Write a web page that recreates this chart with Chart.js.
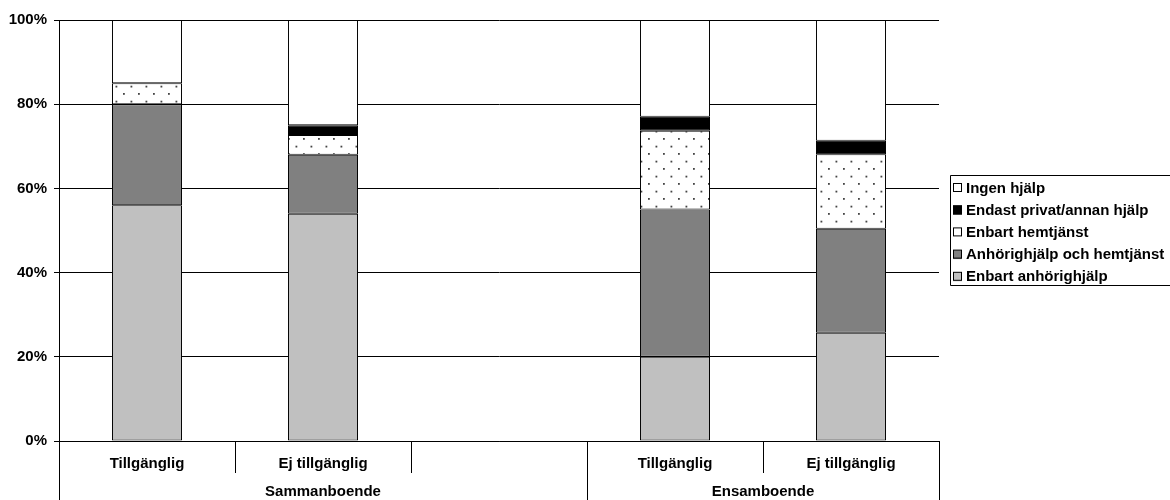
<!DOCTYPE html>
<html>
<head>
<meta charset="utf-8">
<script src="https://cdn.jsdelivr.net/npm/chart.js@4/dist/chart.umd.min.js"></script>
<style>
  html, body { margin: 0; padding: 0; background: #fff; }
  #wrap { width: 1170px; height: 500px; position: relative; }
</style>
</head>
<body>
<div id="wrap"><canvas id="c" width="1170" height="500"></canvas></div>
<script>
// Categories (the empty slot separates the two household groups)
const categories = ['Tillgänglig', 'Ej tillgänglig', '', 'Tillgänglig', 'Ej tillgänglig'];
const groups = ['Sammanboende', 'Ensamboende'];
const groupSpans = [[0, 2], [3, 4]];

// Share of respondents (%) by type of help, bottom to top of each stack
const enbartAnhorighjalp   = [56, 54, null, 20.0, 25.7];
const anhorigOchHemtjanst  = [24, 14, null, 35.0, 24.7];
const enbartHemtjanst      = [5,  4.7, null, 18.7, 17.7];
const endastPrivatAnnan    = [0,  2.3, null, 3.3, 3.2];
const ingenHjalp           = [15, 25, null, 23.0, 28.7];

const yTicks = [0, 20, 40, 60, 80, 100];

// Dotted fill used for "Enbart hemtjänst"
function dotPattern() {
  const t = document.createElement('canvas');
  t.width = 15; t.height = 15;
  const g = t.getContext('2d');
  g.fillStyle = '#ffffff';
  g.fillRect(0, 0, 15, 15);
  g.fillStyle = '#444444';
  g.fillRect(3, 3, 1.8, 1.8);
  g.fillRect(10.5, 10.7, 1.8, 1.8);
  return g.createPattern(t, 'repeat');
}

const ctx = document.getElementById('c').getContext('2d');
const dots = dotPattern();
const FONT = 'Liberation Sans, Arial, Helvetica, sans-serif';

const datasets = [
  { label: 'Enbart anhörighjälp', data: enbartAnhorighjalp, backgroundColor: '#c0c0c0' },
  { label: 'Anhörighjälp och hemtjänst', data: anhorigOchHemtjanst, backgroundColor: '#808080' },
  { label: 'Enbart hemtjänst', data: enbartHemtjanst, backgroundColor: dots },
  { label: 'Endast privat/annan hjälp', data: endastPrivatAnnan, backgroundColor: '#000000' },
  { label: 'Ingen hjälp', data: ingenHjalp, backgroundColor: '#ffffff' }
].map(d => Object.assign(d, {
  borderColor: '#000000',
  borderWidth: 1,
  borderSkipped: false,
  barPercentage: 0.398,
  categoryPercentage: 1.0
}));

// Category separators, group labels and the boxed legend
const decorations = {
  id: 'decorations',
  afterDraw(chart) {
    const c = chart.ctx;
    const x = chart.scales.x;
    const area = chart.chartArea;
    const n = categories.length;
    const half = (x.getPixelForValue(1) - x.getPixelForValue(0)) / 2;
    const edge = i => x.getPixelForValue(i) - half;
    c.save();
    c.strokeStyle = '#000';
    c.lineWidth = 1;
    // vertical separators below the axis
    const groupEnds = new Set(groupSpans.map(s => s[1] + 1));
    for (let i = 1; i <= n; i++) {
      const px = Math.round(edge(i)) + 0.5;
      const long = groupEnds.has(i) || i === n;
      c.beginPath();
      c.moveTo(px, area.bottom);
      c.lineTo(px, long ? 500 : area.bottom + 32);
      c.stroke();
    }
    // left axis extends to the bottom
    const lx = Math.round(area.left) + 0.5;
    c.beginPath(); c.moveTo(lx, area.bottom); c.lineTo(lx, 500); c.stroke();
    // group labels
    c.fillStyle = '#000';
    c.font = 'bold 15px ' + FONT;
    c.textAlign = 'center';
    c.textBaseline = 'middle';
    groups.forEach((g, k) => {
      const l = edge(groupSpans[k][0]);
      const r = edge(groupSpans[k][1] + 1);
      c.fillText(g, (l + r) / 2, 492);
    });
    // legend
    const items = chart.data.datasets.slice().reverse();
    const bx = 950.5, by = 175.5, bw = 230, bh = 110;
    c.beginPath();
    c.rect(bx, by, bw, bh);
    c.stroke();
    c.textAlign = 'left';
    c.font = 'bold 15px ' + FONT;
    items.forEach((d, i) => {
      const cy = 188 + i * 22.2;
      c.fillStyle = d.backgroundColor === dots ? '#ffffff' : d.backgroundColor;
      c.fillRect(953, cy - 4.5, 9, 9);
      c.strokeStyle = '#000';
      c.strokeRect(953.5, cy - 4.5, 8, 8);
      c.fillStyle = '#000';
      c.fillText(d.label, 966, cy + 0.5);
    });
    c.restore();
  }
};

new Chart(ctx, {
  type: 'bar',
  data: { labels: categories, datasets },
  options: {
    responsive: false,
    animation: false,
    layout: { padding: { top: 20, right: 231, left: 0, bottom: 0 } },
    plugins: { legend: { display: false }, tooltip: { enabled: false } },
    scales: {
      x: {
        stacked: true,
        grid: { display: false, drawTicks: false },
        border: { display: true, color: '#000', width: 1 },
        ticks: {
          color: '#000',
          font: { family: FONT, size: 15, weight: 'bold' },
          padding: 14,
          maxRotation: 0,
          autoSkip: false
        },
        afterFit(s) { s.height = 59; }
      },
      y: {
        stacked: true,
        min: 0,
        max: 100,
        afterBuildTicks(s) { s.ticks = yTicks.map(v => ({ value: v })); },
        grid: { color: '#000', lineWidth: 1, drawTicks: true, tickLength: 5, tickColor: '#000' },
        border: { display: true, color: '#000', width: 1 },
        ticks: {
          color: '#000',
          font: { family: FONT, size: 15, weight: 'bold' },
          padding: 7,
          callback: v => v + '%'
        },
        afterFit(s) { s.width = 59; }
      }
    }
  },
  plugins: [decorations]
});
</script>
</body>
</html>
